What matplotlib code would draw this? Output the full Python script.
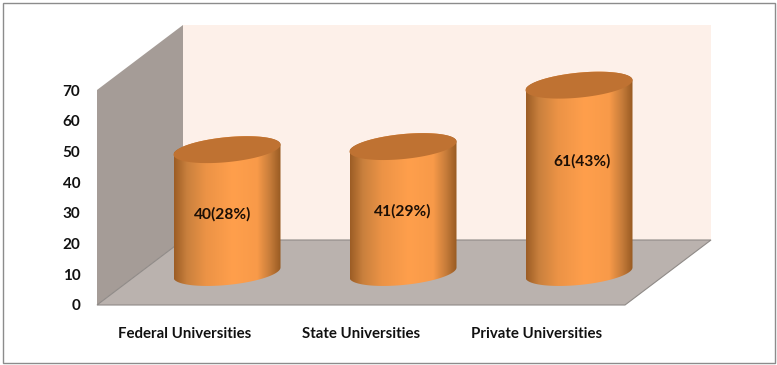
import numpy as np
import matplotlib
matplotlib.use("Agg")
import matplotlib.pyplot as plt
from matplotlib.colors import LinearSegmentedColormap
from matplotlib.patches import Polygon, Rectangle, PathPatch
from matplotlib.path import Path

plt.rcParams['font.family'] = ['Lato', 'DejaVu Sans']

# data
categories = ["Federal Universities", "State Universities", "Private Universities"]
values = [40, 41, 61]
bar_labels = ["40(28%)", "41(29%)", "61(43%)"]
label_heights = [29.6, 30.6, 46.9]
label_shifts = [-0.03, -0.01, 0.01]
y_ticks = [0, 10, 20, 30, 40, 50, 60, 70]

W, H = 777, 365
fig = plt.figure(figsize=(W / 100, H / 100), dpi=100, facecolor="white")
# axes = front plane of the 3d box
ax = fig.add_axes([97 / W, (H - 305) / H, 528 / W, 215 / H])
ax.patch.set_visible(False)
ax.set_xlim(-0.5, 2.5)
ax.set_ylim(0, 70)
for s in ax.spines.values():
    s.set_visible(False)

# depth of the box in data units
px_x = 3 / 528
px_y = 70 / 215
dx = 86 * px_x
dy = 65 * px_y
x0, x1 = -0.5, 2.5
ymax = y_ticks[-1]


def face(pts, color, z, edge="none"):
    ax.add_patch(Polygon(pts, closed=True, facecolor=color, edgecolor=edge,
                         lw=0.8, zorder=z, clip_on=False))


face([(x0 + dx, dy), (x1 + dx, dy), (x1 + dx, ymax + dy), (x0 + dx, ymax + dy)], "#fdf0e9", 1)
face([(x0, 0), (x0, ymax), (x0 + dx, ymax + dy), (x0 + dx, dy)], "#a59c97", 2)
face([(x0, 0), (x1, 0), (x1 + dx, dy), (x0 + dx, dy)], "#bab2ae", 2, edge="#8f8a87")

# cylinders
side_cmap = LinearSegmentedColormap.from_list(
    "side", [(0, "#9c5d25"), (0.12, "#c9803d"), (0.3, "#ec9346"), (0.55, "#ff9f4c"),
             (0.78, "#f89a49"), (0.9, "#c67c3a"), (1, "#985a22")])
grad = np.linspace(0, 1, 256).reshape(1, -1)
a = 53.5 * px_x
b = 12.5 * px_y
k = 5 * px_y


def ellipse(cx, cy, t):
    return np.column_stack([cx + a * np.cos(t), cy + b * np.sin(t) + k * np.cos(t)])


for i, v in enumerate(values):
    cx = i + dx / 2 - 1 * px_x
    low = dy / 2
    top = v + dy / 2
    lower = ellipse(cx, low, np.linspace(np.pi, 2 * np.pi, 60))
    upper = ellipse(cx, top, np.linspace(0, np.pi, 60))
    outline = np.vstack([lower, upper, lower[:1]])
    im = ax.imshow(grad, cmap=side_cmap, aspect="auto", zorder=5 + i,
                   extent=[cx - a, cx + a, low - 6, top + 6])
    patch = PathPatch(Path(outline), transform=ax.transData, facecolor="none", edgecolor="none")
    ax.add_patch(patch)
    im.set_clip_box(fig.bbox)
    im.set_clip_path(patch)
    face(ellipse(cx, top, np.linspace(0, 2 * np.pi, 120)), "#bf7232", 5.5 + i)
    ax.text(i + dx / 2 + label_shifts[i], label_heights[i], bar_labels[i], ha="center", va="center",
            fontsize=11.2, fontweight="bold", color="#1c0f05", zorder=10)

ax.set_xlim(-0.5, 2.5)
ax.set_ylim(0, 70)
ax.set_xticks(range(len(categories)))
ax.set_xticklabels(categories, fontsize=10.8, fontweight="bold", color="#111111")
ax.set_yticks(y_ticks)
ax.set_yticklabels([str(t) for t in y_ticks], fontsize=11, fontweight="bold", color="#111111")
ax.tick_params(axis="x", length=0, pad=16)
ax.tick_params(axis="y", length=0, pad=12)

# outer frame
fig.add_artist(Rectangle((2.5 / W, (H - 362.5) / H), 772 / W, 360 / H, transform=fig.transFigure,
                         facecolor="none", edgecolor="#8c8c8c", lw=1.0))

fig.savefig("out.png", dpi=100)
